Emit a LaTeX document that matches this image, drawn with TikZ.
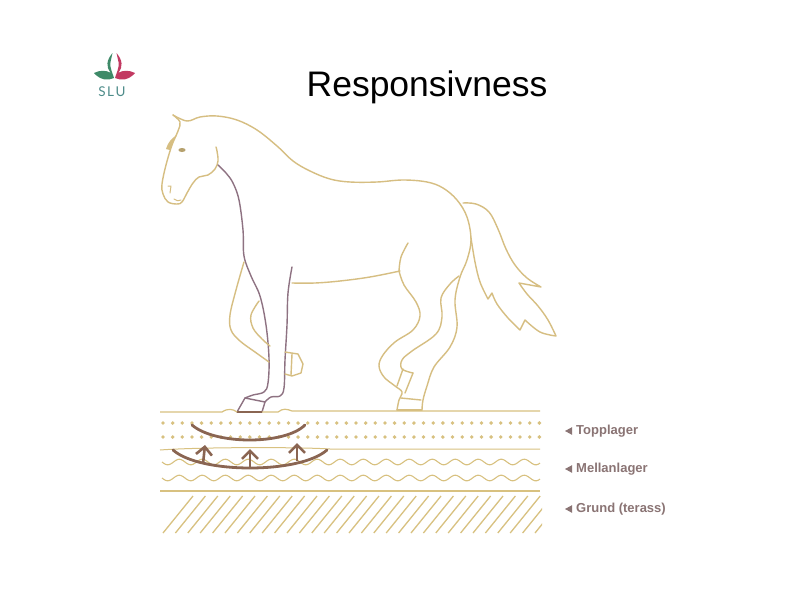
\documentclass[tikz,border=0pt]{standalone}
\usepackage{fontspec}
\setmainfont{Liberation Sans}
\newfontfamily\logofont{Lato}
\usetikzlibrary{arrows.meta}

\definecolor{horseline}{HTML}{D6BE82}
\definecolor{legline}{HTML}{8E7282}
\definecolor{groundline}{HTML}{D8C180}
\definecolor{arcbrown}{HTML}{8A6552}
\definecolor{labelgray}{HTML}{8A7474}
\definecolor{slugreen}{HTML}{3E8A68}
\definecolor{slupink}{HTML}{C23A62}
\definecolor{sluteal}{HTML}{4E8C8A}

\tikzset{
  horse/.style={draw=horseline, line width=1.4pt, line join=round, line cap=round},
  foreleg/.style={draw=legline, line width=1.4pt, line join=round, line cap=round},
  groundstroke/.style={draw=groundline, line width=1.2pt},
  pushback/.style={draw=arcbrown, line width=2.8pt, line cap=round},
  lift/.style={draw=arcbrown, line width=2.6pt, -{Straight Barb[length=8pt,width=16pt]}},
  layerlabel/.style={text=labelgray, font=\bfseries\fontsize{13}{15}\selectfont, anchor=west, inner sep=0pt},
  pointer/.style={fill=labelgray}
}

\newcommand{\leafpath}{%
  (112.5,53) .. controls (106.5,60) and (105.5,67) .. (111,73)
  .. controls (106,70) and (100,70) .. (94,73)
  .. controls (100,80) and (108,81) .. (114,78)
  .. controls (113,74) and (109.5,68) .. (110.5,62)
  .. controls (111,58) .. (112.5,53) -- cycle}

\begin{document}
\begin{tikzpicture}[x=1pt, y=-1pt]
\useasboundingbox (0,0) rectangle (798,605);
\fill[white] (0,0) rectangle (798,605);

% ---- logo ----
\fill[slugreen] \leafpath;
\begin{scope}[shift={(229,0)}, xscale=-1]
  \fill[slupink] \leafpath;
\end{scope}
\node[text=sluteal, font=\logofont\fontsize{13.5}{13.5}\selectfont, inner sep=0pt] (slu) at (112,92) {S\hspace{1.5pt}L\hspace{1.5pt}U};

% ---- title ----
\node[font=\fontsize{35.5}{40}\selectfont, anchor=base, inner sep=0pt] (title) at (427,96) {Responsivness};

% ---- horse: head ----
\draw[horse] plot[smooth, tension=0.6] coordinates {(173,115) (180,122) (178,131) (172,145) (166,165) (162,184) (163,194) (168,202) (177,204) (182,202) (187,193) (193,183) (199,177) (208,175) (215,169) (218,161) (217,151) (216,147)};
\fill[horseline!85!black] (182,150) ellipse (3.6 and 2);
\fill[horseline] (166,149) .. controls (168,142) and (172,138) .. (177,135) .. controls (174,140) and (172,145) .. (170,150) -- cycle;
\draw[horse, line width=1pt] (168,186) -- (171,186) -- (170,193);
\draw[horse, line width=1pt] (174,199) .. controls (177,201) .. (181,200);

% ---- horse: ear, topline, rump and near hind leg back ----
\draw[horse] plot[smooth, tension=0.6] coordinates {(173,115) (187,121) (200,117) (217,116) (237,120) (257,130) (277,146) (293,161) (310,171) (330,179) (350,182) (377,182) (403,180) (427,182) (443,188) (457,200) (467,217) (471,240) (467,260) (460,277) (455,300) (457,327) (450,347) (434,367) (427,386) (423,400) (422,410)};

% ---- front leg carrying weight (neck line continues down the leg) ----
\draw[foreleg] plot[smooth, tension=0.6] coordinates {(218,165) (226,173) (233,183) (239,200) (243,230) (244,256) (251,276) (260,296) (266,325) (269,358) (268,383) (264,392) (253,395) (245,398)};
\draw[foreleg] (245,398) -- (237,412) -- (262,412) -- (265,402) -- cycle;
\draw[foreleg] plot[smooth, tension=0.6] coordinates {(265,402) (271,397) (280,396) (284,388) (285,360) (287,325) (288,293) (292,267)};
\draw[draw=arcbrown, line width=1.8pt] (237,412) -- (262,412);

% ---- lifted front leg ----
\draw[horse] plot[smooth, tension=0.6] coordinates {(244,262) (236,290) (230,315) (231,330) (240,341) (255,352) (269,362)};
\draw[horse] plot[smooth, tension=0.6] coordinates {(259,301) (251,315) (253,328) (262,339) (270,346)};
\draw[horse] (285,352) -- (298,354) -- (303,364) -- (301,373) -- (292,376) -- (285,374);
\draw[horse] (292,354) -- (291,375);

% ---- belly and stifle ----
\draw[horse] plot[smooth, tension=0.6] coordinates {(292,283) (315,283) (340,281) (370,277) (400,271)};
\draw[horse] plot[smooth, tension=0.6] coordinates {(399,271) (401,257) (408,243)};

% ---- near hind leg ----
\draw[horse] plot[smooth, tension=0.6] coordinates {(399,271) (404,285) (416,302) (420,316) (413,330) (395,342) (383,355) (379,366) (384,377) (395,386) (402,392) (399,400) (397,410)};
\draw[horse] (397,410) -- (422,410);
\draw[horse] (401,398) -- (421,400);

% ---- far hind leg ----
\draw[horse] plot[smooth, tension=0.6] coordinates {(459,276) (450,284) (441,298) (442,317) (436,334) (412,351) (402,360) (402,369) (413,373)};
\draw[horse] (413,373) -- (405,393);
\draw[horse] (403,369) -- (397,386);

% ---- tail ----
\draw[horse] plot[smooth, tension=0.6] coordinates {(463,203) (476,204) (489,212) (498,229) (506,249) (515,265) (527,278) (541,287)}
  -- (519,283)
  -- plot[smooth, tension=0.6] coordinates {(519,283) (527,294) (538,306) (548,320) (556,336)}
  -- plot[smooth, tension=0.6] coordinates {(556,336) (540,332) (525,320)}
  -- (520,330)
  -- plot[smooth, tension=0.6] coordinates {(520,330) (508,318) (497,304) (492,293)}
  -- (488,299)
  -- plot[smooth, tension=0.6] coordinates {(488,299) (480,282) (475,262) (471,238)};

% ---- ground surface ----
\draw[groundstroke] (160,412) -- (222,412) .. controls (228,408) and (233,409) .. (237,412);
\draw[groundstroke] (262,412) -- (278,412) .. controls (283,408) and (287,409) .. (292,411) -- (540,411);

% ---- top layer: two rows of dots ----
\foreach \i in {0,...,39} {
  \fill[groundline] ({163+9.65*\i},423) circle (1.9);
  \fill[groundline] ({163+9.65*\i},437) circle (1.9);
}
\draw[groundstroke, line width=1pt] (160,450) .. controls (200,447) and (300,447) .. (330,449) -- (540,449);

% ---- middle layer: two wavy lines ----
\draw[groundstroke, line width=1.1pt] plot[domain=162:540, samples=220, smooth] (\x, {462+2.8*sin((\x-162)/23*360)});
\draw[groundstroke, line width=1.1pt] plot[domain=162:540, samples=220, smooth] (\x, {478+2.8*sin((\x-162)/23*360)});

% ---- base layer ----
\draw[groundstroke, line width=1.9pt] (160,491) -- (540,491);
\begin{scope}
  \clip (158,494) rectangle (542,536);
  \foreach \i in {0,...,31} {
    \draw[groundstroke, line width=1.3pt] ({163+12.4*\i},533) -- ++(30,-37);
  }
\end{scope}

% ---- compression and rebound ----
\draw[pushback] (192,425) .. controls (215,445) and (285,445) .. (305,425);
\draw[pushback] (173,450) .. controls (200,474) and (300,474) .. (327,450);
\draw[lift] (203,464) -- (205,445);
\draw[lift] (250,469) -- (250,449);
\draw[lift] (297,461) -- (297,443);

% ---- layer labels with pointers ----
\node[layerlabel] (top) at (576,431) {Topplager};
\node[layerlabel] (mid) at (576,469) {Mellanlager};
\node[layerlabel] (base) at (576,509) {Grund (terass)};
\foreach \lbl in {top, mid, base} {
  \fill[pointer] ([xshift=-11pt]\lbl.west) -- ++(7,-3.8) -- ++(0,7.6) -- cycle;
}
\end{tikzpicture}
\end{document}
